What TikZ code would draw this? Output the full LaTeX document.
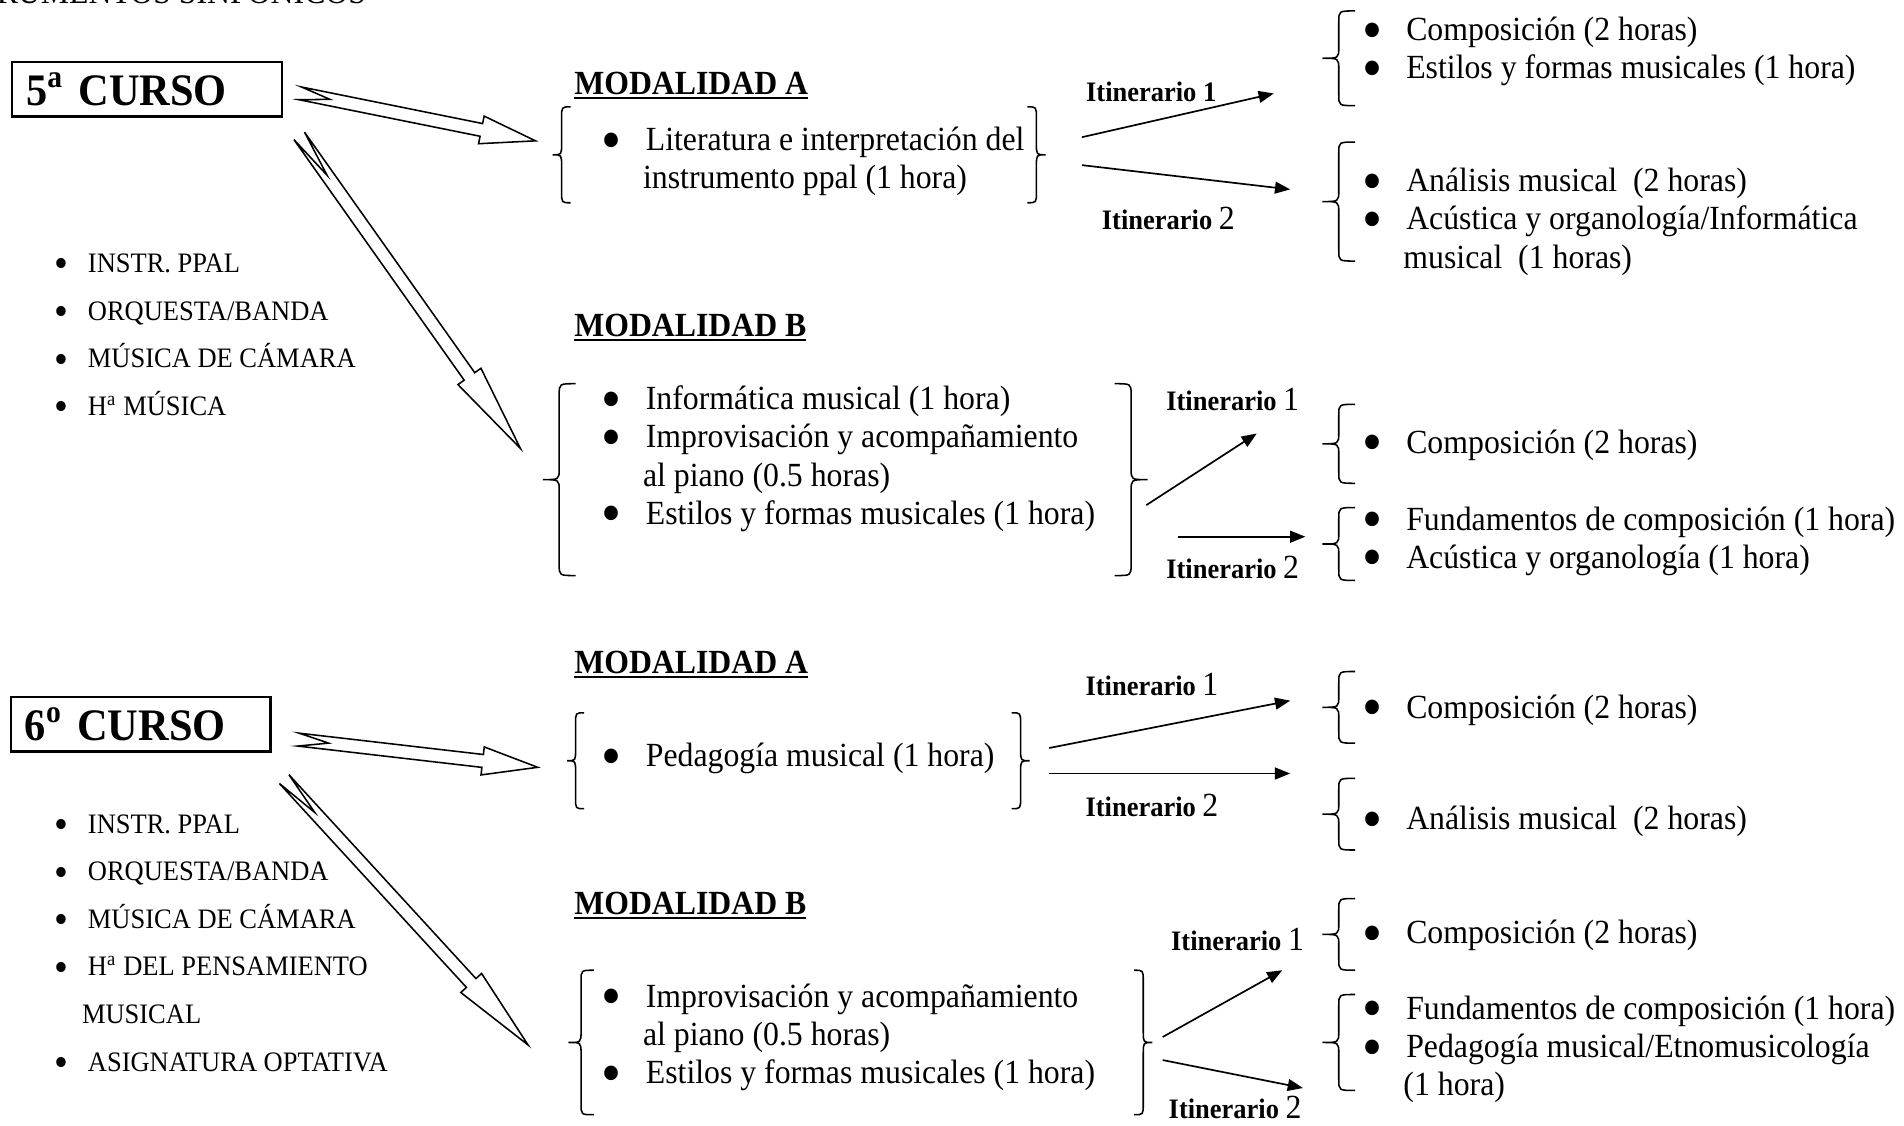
\documentclass[tikz,border=0pt]{standalone}
\usepackage{graphicx}
\usepackage{fontspec}
\setmainfont{Liberation Serif}[FakeStretch=0.94]
\usepackage{tikz}
\usetikzlibrary{calc}
\usetikzlibrary{arrows.meta}
\tikzstyle{txt} = [inner sep=0pt, anchor=west, font=\fontsize{12}{13.58}\selectfont]
\tikzstyle{sml} = [inner sep=0pt, anchor=west, font=\fontsize{10}{16.9}\selectfont]
\tikzstyle{iti} = [inner sep=0pt, anchor=west, font=\fontsize{10}{12}\selectfont\bfseries]
\tikzstyle{hdr} = [inner sep=0pt, anchor=base west, font=\fontsize{12}{14}\selectfont\bfseries]
\tikzstyle{curso} = [draw, line width=0.8pt, anchor=north west, inner xsep=5pt, inner ysep=0pt, minimum height=19.4pt, align=left, font=\fontsize{16}{19}\selectfont\bfseries]
\tikzstyle{fina} = [-{Triangle[length=5.4pt, width=4.2pt]}, line width=0.6pt]
\tikzstyle{hueca} = [line width=0.55pt, line join=miter]
\tikzstyle{llave} = [line width=0.55pt]
\newcommand{\itm}{\makebox[14.2pt][l]{\hspace*{-1.5pt}\smash{\raisebox{-3.4pt}{\scalebox{1.8}{\textbullet}}}}}
\newcommand{\itp}{\makebox[11.1pt][l]{\hspace*{-0.8pt}\smash{\raisebox{-1.9pt}{\scalebox{1.5}{\textbullet}}}}}
\newcommand{\sig}{\hspace*{13.2pt}}
\newcommand{\dig}[1]{{\mdseries\fontsize{12}{14}\selectfont #1}}
\newcommand{\lista}[1]{\begin{tabular}{@{}l@{}}#1\end{tabular}}
\newcommand{\subr}[1]{\setbox0\hbox{#1}\rlap{\rule[-1.6pt]{\wd0}{0.75pt}}\box0}
\newcommand{\llavei}[4]{\draw [llave] (#1,#2) .. controls ({#1-#4},#2) .. ({#1-#4},{#2+9}) -- ({#1-#4},{(#2+#3)/2-9}) .. controls ({#1-#4},{(#2+#3)/2}) .. ({#1-2*#4},{(#2+#3)/2}) .. controls ({#1-#4},{(#2+#3)/2}) .. ({#1-#4},{(#2+#3)/2+9}) -- ({#1-#4},{#3-9}) .. controls ({#1-#4},#3) .. (#1,#3);}
\newcommand{\llaved}[4]{\draw [llave] (#1,#2) .. controls ({#1+#4},#2) .. ({#1+#4},{#2+9}) -- ({#1+#4},{(#2+#3)/2-9}) .. controls ({#1+#4},{(#2+#3)/2}) .. ({#1+2*#4},{(#2+#3)/2}) .. controls ({#1+#4},{(#2+#3)/2}) .. ({#1+#4},{(#2+#3)/2+9}) -- ({#1+#4},{#3-9}) .. controls ({#1+#4},#3) .. (#1,#3);}
\newcommand{\flecha}[4]{\draw [hueca] let \p1 = ($(#2)-(#1)$), \n1 = {atan2(\y1,\x1)}, \n2 = {veclen(\x1,\y1)} in
 ($(#1)+(\n1+90:2.3pt)$) -- ($(#1)+(\n1:{(1-#4)*\n2*1pt})+(\n1+90:2.3pt)$) -- ($(#1)+(\n1:{(1-#4)*\n2*1pt})+(\n1+90:5pt)$) -- (#2) -- ($(#1)+(\n1:{(1-#4)*\n2*1pt})+(\n1-90:5pt)$) -- ($(#1)+(\n1:{(1-#4)*\n2*1pt})+(\n1-90:2.3pt)$) -- ($(#1)+(\n1-90:2.3pt)$) -- ($(#1)+(\n1:{#3*\n2*1pt})$) -- cycle;}

\begin{document}
\begin{tikzpicture}[x=0.431pt, y=-0.431pt]
\useasboundingbox (0,0) rectangle (1568,927);
\node [anchor=base east, inner sep=0pt, font=\fontsize{12}{14}\selectfont] (TIT) at (302,3) {INSTRUMENTOS SINFÓNICOS};
\node [curso, text width=85.7pt] (C5) at (9,50) {5\textsuperscript{a} CURSO};
\node [curso, text width=82.2pt] (C6) at (8,573) {6\textsuperscript{o} CURSO};
\node [sml] (L5) at (46.2,275.5) {\lista{\itp INSTR. PPAL\\ \itp ORQUESTA/BANDA\\ \itp MÚSICA DE CÁMARA\\ \itp H\textsuperscript{a} MÚSICA}};
\node [sml] (L6) at (46.2,776.3) {\lista{\itp INSTR. PPAL\\ \itp ORQUESTA/BANDA\\ \itp MÚSICA DE CÁMARA\\ \itp H\textsuperscript{a} DEL PENSAMIENTO\\ \hspace*{9pt}MUSICAL\\ \itp ASIGNATURA OPTATIVA}};

\node [hdr] (MA5) at (472.5,78) {\subr{MODALIDAD A}};
\node [hdr] (MB5) at (472.5,277) {\subr{MODALIDAD B}};
\node [hdr] (MA6) at (472.5,555) {\subr{MODALIDAD A}};
\node [hdr] (MB6) at (472.5,753) {\subr{MODALIDAD B}};

\node [txt] (GA5) at (498.5,133.5) {\lista{\itm Literatura e interpretación del\\ \sig instrumento ppal (1 hora)}};
\node [txt] (GB5) at (498.5,378.3) {\lista{\itm Informática musical (1 hora)\\ \itm Improvisación y acompañamiento\\ \sig al piano (0.5 horas)\\ \itm Estilos y formas musicales (1 hora)}};
\node [txt] (GA6) at (498.5,625) {\lista{\itm Pedagogía musical (1 hora)}};
\node [txt] (GB6) at (498.5,854.7) {\lista{\itm Improvisación y acompañamiento\\ \sig al piano (0.5 horas)\\ \itm Estilos y formas musicales (1 hora)}};

\node [txt] (R5A1) at (1124.7,43) {\lista{\itm Composición (2 horas)\\ \itm Estilos y formas musicales (1 hora)}};
\node [txt] (R5A2) at (1124.7,183) {\lista{\itm Análisis musical~ (2 horas)\\ \itm Acústica y organología/Informática\\ \sig musical~ (1 horas)}};
\node [txt] (R5B1) at (1124.7,367) {\lista{\itm Composición (2 horas)}};
\node [txt] (R5B2) at (1124.7,446) {\lista{\itm Fundamentos de composición (1 hora)\\ \itm Acústica y organología (1 hora)}};
\node [txt] (R6A1) at (1124.7,585) {\lista{\itm Composición (2 horas)}};
\node [txt] (R6A2) at (1124.7,677) {\lista{\itm Análisis musical~ (2 horas)}};
\node [txt] (R6B1) at (1124.7,771) {\lista{\itm Composición (2 horas)}};
\node [txt] (R6B2) at (1124.7,864.7) {\lista{\itm Fundamentos de composición (1 hora)\\ \itm Pedagogía musical/Etnomusicología\\ \sig(1 hora)}};

\node [iti] (I5A1) at (894,75.5) {Itinerario 1};
\node [iti] (I5A2) at (907,180) {Itinerario \dig{2}};
\node [iti] (I5B1) at (960,329) {Itinerario \dig{1}};
\node [iti] (I5B2) at (960,467) {Itinerario \dig{2}};
\node [iti] (I6A1) at (893.5,564) {Itinerario \dig{1}};
\node [iti] (I6A2) at (893.5,663) {Itinerario \dig{2}};
\node [iti] (I6B1) at (964,774) {Itinerario \dig{1}};
\node [iti] (I6B2) at (962,912) {Itinerario \dig{2}};

\coordinate (S5A) at (247.3,76.9);
\coordinate (E5A) at (441,116);
\coordinate (S5B) at (246.4,111.9);
\coordinate (E5B) at (428.5,369.2);
\coordinate (S6A) at (245.8,609.1);
\coordinate (E6A) at (442.8,631.9);
\coordinate (S6B) at (234,641.6);
\coordinate (E6B) at (434.9,860.6);
\flecha{S5A}{E5A}{0.126}{0.23}
\flecha{S5B}{E5B}{0.126}{0.23}
\flecha{S6A}{E6A}{0.126}{0.23}
\flecha{S6B}{E6B}{0.126}{0.23}

\coordinate (T5A1) at (891,113);
\coordinate (H5A1) at (1049,77);
\coordinate (T5A2) at (891,136);
\coordinate (H5A2) at (1062.5,156);
\coordinate (T5B1) at (944,416);
\coordinate (H5B1) at (1035,357);
\coordinate (T5B2) at (970,442);
\coordinate (H5B2) at (1075,442);
\coordinate (T6A1) at (864,616);
\coordinate (H6A1) at (1062.5,577);
\coordinate (T6A2) at (864,637);
\coordinate (H6A2) at (1062.5,637);
\coordinate (T6B1) at (957.5,854);
\coordinate (H6B1) at (1056,799);
\coordinate (T6B2) at (957.5,873);
\coordinate (H6B2) at (1073,896);
\draw [fina] (T5A1) to (H5A1);
\draw [fina] (T5A2) to (H5A2);
\draw [fina] (T5B1) to (H5B1);
\draw [fina] (T5B2) to (H5B2);
\draw [fina] (T6A1) to (H6A1);
\draw [fina] (T6A2) to (H6A2);
\draw [fina] (T6B1) to (H6B1);
\draw [fina] (T6B2) to (H6B2);

\llavei{470}{88}{167}{7.5}
\llaved{846}{88}{167}{7.5}
\llavei{474}{316}{474}{13.5}
\llaved{918}{316}{474}{13.5}
\llavei{481}{587}{666}{7}
\llaved{833}{587}{666}{7.5}
\llavei{489}{799}{918}{10.5}
\llaved{934}{799}{918}{7.5}
\llavei{1116}{9}{87}{13.5}
\llavei{1116}{117}{215}{13.5}
\llavei{1116}{333}{398}{13.5}
\llavei{1116}{418}{478}{13.5}
\llavei{1116}{553}{612}{13.5}
\llavei{1116}{641}{700}{13.5}
\llavei{1116}{740}{799}{13.5}
\llavei{1116}{819}{898}{13.5}
\end{tikzpicture}
\end{document}
